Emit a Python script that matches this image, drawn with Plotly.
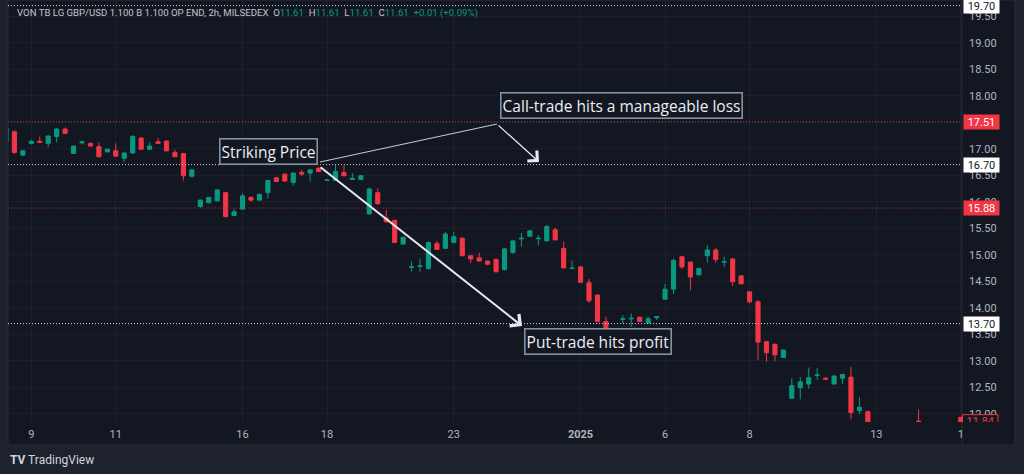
import plotly.graph_objects as go

# ---------------- data ----------------
candle_idx = [-1, 0, 1, 2, 3, 4, 5, 6, 7, 8, 9, 10, 11, 12, 13, 14, 15, 16, 17, 18, 19,
              20, 21, 22, 23, 24, 25, 26, 27, 28, 29, 30, 31, 32, 33, 34, 35, 36, 37, 38, 39,
              40, 41, 42, 43, 44, 45, 46, 47, 48, 49, 50, 51, 52, 53, 54, 55, 56, 57, 58, 59,
              60, 61, 62, 63, 64, 65, 66, 67, 68, 69, 70, 71, 72, 73, 74, 75, 76, 77, 78, 79,
              80, 81, 82, 83, 84, 85, 86, 87, 88, 89, 90, 91, 92, 93, 94, 95, 96, 97, 98, 99,
              100, 101, 107, 112]
open_ = [17.13, 17.32, 16.88, 17.10, 17.14, 17.10, 17.23, 17.37, 16.91, 17.11, 17.10, 17.04, 16.94, 16.96, 16.82, 16.92, 17.20, 16.99, 17.13, 17.145, 16.93,
         16.91, 16.48, 15.91, 15.98, 16.02, 16.17, 15.74, 15.86, 16.08, 16.03, 16.17, 16.45, 16.52, 16.36, 16.55, 16.54, 16.63, 16.40, 16.40, 16.55,
         16.42, 16.42, 15.77, 16.17, 15.69, 15.65, 15.20, 14.76, 14.78, 14.74, 15.21, 15.12, 15.23, 15.31, 14.98, 14.94, 14.88, 14.91, 14.72, 15.04,
         15.30, 15.35, 15.30, 15.26, 15.47, 15.12, 14.74, 14.77, 14.47, 14.24, 13.74, 13.45, 13.78, 13.79, 13.82, 13.71, 13.81, 14.16, 14.35, 14.96,
         14.86, 14.62, 14.98, 15.09, 14.86, 14.92, 14.60, 14.30, 14.11, 13.36, 13.31, 13.06, 12.29, 12.49, 12.56, 12.72, 12.67, 12.56, 12.67, 12.69,
         12.06, 12.04, 11.86, 11.93]
high = [17.42, 17.35, 16.97, 17.17, 17.23, 17.25, 17.39, 17.40, 17.06, 17.15, 17.12, 17.12, 17.00, 17.10, 16.93, 17.26, 17.22, 17.12, 17.20, 17.15, 16.98,
        16.92, 16.62, 16.04, 16.09, 16.24, 16.18, 15.86, 16.16, 16.10, 16.15, 16.41, 16.46, 16.53, 16.55, 16.60, 16.61, 16.65, 16.42, 16.71, 16.69,
        16.54, 16.50, 16.27, 16.25, 15.84, 15.66, 15.34, 14.87, 14.93, 15.25, 15.26, 15.43, 15.43, 15.33, 14.99, 15.04, 14.89, 14.93, 15.12, 15.28,
        15.41, 15.46, 15.37, 15.56, 15.51, 15.245, 14.89, 14.78, 14.54, 14.25, 13.83, 13.52, 13.86, 13.89, 13.83, 13.83, 13.84, 14.45, 14.93, 14.97,
        14.87, 14.75, 15.18, 15.12, 14.96, 14.93, 14.61, 14.31, 14.14, 13.37, 13.32, 13.21, 12.67, 12.69, 12.87, 12.86, 12.68, 12.73, 12.75, 12.88,
        12.31, 12.05, 12.08, 11.94]
low = [17.10, 16.90, 16.86, 17.08, 17.11, 17.03, 17.12, 17.28, 16.90, 17.08, 17.04, 16.83, 16.93, 16.84, 16.75, 16.90, 16.98, 16.98, 17.09, 16.95, 16.84,
       16.40, 16.46, 15.88, 15.97, 16.00, 15.70, 15.73, 15.85, 16.00, 16.02, 16.06, 16.37, 16.38, 16.30, 16.49, 16.38, 16.56, 16.39, 16.39, 16.48,
       16.41, 16.41, 15.76, 15.95, 15.61, 15.22, 15.19, 14.68, 14.68, 14.72, 15.09, 15.11, 15.22, 14.97, 14.84, 14.87, 14.80, 14.66, 14.70, 15.02,
       15.15, 15.34, 15.18, 15.25, 15.27, 14.74, 14.73, 14.47, 14.09, 13.72, 13.49, 13.44, 13.70, 13.64, 13.73, 13.70, 13.77, 14.15, 14.26, 14.73,
       14.33, 14.61, 14.85, 14.85, 14.77, 14.41, 14.44, 14.08, 13.01, 12.98, 12.99, 13.05, 12.28, 12.27, 12.47, 12.64, 12.64, 12.55, 12.56, 11.895,
       11.995, 11.78, 11.82, 11.78]
close = [17.39, 16.93, 16.96, 17.14, 17.12, 17.24, 17.37, 17.29, 17.05, 17.13, 17.05, 16.85, 16.99, 16.86, 16.92, 17.23, 16.99, 17.05, 17.10, 16.96, 16.85,
         16.49, 16.60, 16.03, 16.08, 16.22, 15.72, 15.81, 16.11, 16.03, 16.14, 16.40, 16.38, 16.39, 16.54, 16.52, 16.60, 16.57, 16.41, 16.57, 16.49,
         16.44, 16.49, 16.24, 15.96, 15.62, 15.23, 15.33, 14.77, 14.79, 15.23, 15.10, 15.39, 15.34, 14.98, 14.92, 14.88, 14.82, 14.68, 15.11, 15.26,
         15.31, 15.45, 15.31, 15.53, 15.28, 14.75, 14.745, 14.48, 14.13, 13.74, 13.50, 13.51, 13.79, 13.80, 13.74, 13.79, 13.83, 14.35, 14.89, 14.77,
         14.58, 14.74, 15.09, 14.91, 14.87, 14.49, 14.45, 14.11, 13.35, 13.15, 13.11, 13.20, 12.53, 12.60, 12.68, 12.73, 12.65, 12.71, 12.74, 12.02,
         12.12, 11.80, 11.83, 11.80]

tick_idx = [2, 12, 27, 37, 52, 67, 77, 87, 102, 112]
tick_labels = ["9", "11", "16", "18", "23", "<b>2025</b>", "6", "8", "13", "1"]
price_ticks = [12.0, 12.5, 13.0, 13.5, 14.0, 14.5, 15.0, 15.5, 16.0, 16.5, 17.0, 17.5, 18.0, 18.5, 19.0, 19.5]

white_levels = [19.70, 16.70, 13.70]
red_levels = [17.51, 15.88]
last_price = 11.84

header_label = "VON TB LG GBP/USD 1.100 B 1.100 OP END, 2h, MILSEDEX"
header_ohlc = [("O", 11.61), ("H", 11.61), ("L", 11.61), ("C", 11.61)]
header_change = "+0.01 (+0.09%)"

# annotation anchors (candle index, price)
strike_label = ("Striking Price", 30.1, 16.95)
call_label = ("Call-trade hits a manageable loss", 71.8, 17.806)
put_label = ("Put-trade hits profit", 69.1, 13.353)
call_link = ((36.17, 16.749), (57.11, 17.466))
call_arrow = ((57.11, 17.466), (62.08, 16.749))
put_arrow = ((36.05, 16.674), (60.07, 13.655))

# ---------------- style ----------------
W, H = 1024, 474
BG = "#131722"
FRAME = "#1e222d"
GRID = "#1c202b"
GREEN = "#089981"
RED = "#f23645"
AXIS_TXT = "#b2b5be"
PL, PR, PB = 8, 962, 422      # plot area pixel edges
PANEL_R, PANEL_B = 1015, 445

fig = go.Figure()
fig.add_trace(go.Candlestick(
    x=candle_idx, open=open_, high=high, low=low, close=close,
    increasing=dict(line=dict(color=GREEN, width=1), fillcolor=GREEN),
    decreasing=dict(line=dict(color=RED, width=1), fillcolor=RED),
    whiskerwidth=0, hoverinfo="skip", showlegend=False))

# clipped last-price badge in the price-axis column
bh = 7.5 / 53.0
fig.add_trace(go.Scatter(
    x=[0.5, 36, 36, 0.5, 0.5],
    y=[last_price - bh, last_price - bh, last_price + bh, last_price + bh, last_price - bh],
    mode="lines", fill="toself", fillcolor=BG, line=dict(color=RED, width=1),
    xaxis="x2", yaxis="y2", hoverinfo="skip", showlegend=False))
fig.add_trace(go.Scatter(
    x=[18.25], y=[last_price], mode="text", text=[f"{last_price:.2f}"],
    textfont=dict(family="Roboto", size=11, color=RED), cliponaxis=True,
    xaxis="x2", yaxis="y2", hoverinfo="skip", showlegend=False))

xr = [-0.757, 112.14]
yr = [11.843, 19.806]
ydom = [(H - PB) / H, 1]

fig.update_layout(
    width=W, height=H, margin=dict(l=0, r=0, t=0, b=0),
    paper_bgcolor=FRAME, plot_bgcolor=BG, showlegend=False,
    xaxis=dict(domain=[PL / W, PR / W], range=xr, rangeslider=dict(visible=False),
               tickvals=tick_idx, ticktext=tick_labels, showgrid=True, gridcolor=GRID,
               zeroline=False, showline=False, ticks="", ticklabelstandoff=4,
               tickfont=dict(family="Roboto", size=11, color=AXIS_TXT),
               fixedrange=True, automargin=False),
    yaxis=dict(domain=ydom, range=yr, side="right", tickvals=price_ticks,
               ticktext=[f"{v:.2f}" for v in price_ticks], showgrid=True, gridcolor=GRID,
               zeroline=False, showline=False, ticks="", ticklabelstandoff=6,
               tickfont=dict(family="Roboto", size=11, color=AXIS_TXT),
               fixedrange=True, automargin=False),
    xaxis2=dict(domain=[PR / W, PANEL_R / W], range=[0, PANEL_R - PR], visible=False,
                anchor="y2", fixedrange=True),
    yaxis2=dict(domain=ydom, range=yr, visible=False, anchor="x2", fixedrange=True),
)

shapes = [
    dict(type="rect", xref="paper", yref="paper", x0=PL / W, x1=PANEL_R / W,
         y0=(H - PANEL_B) / H, y1=1.0, fillcolor=BG, line=dict(color="#2a2e39", width=1), layer="below"),
    dict(type="line", xref="paper", yref="paper", x0=PR / W, x1=PR / W,
         y0=(H - PANEL_B) / H, y1=1.0, line=dict(color="#2a2e39", width=1), layer="below"),
]
for lv in white_levels:
    shapes.append(dict(type="line", xref="paper", yref="y", x0=PL / W, x1=PR / W, y0=lv, y1=lv,
                       line=dict(color="#c9ccd4", width=1, dash="1px,2px"), layer="above"))
for lv in red_levels:
    shapes.append(dict(type="line", xref="paper", yref="y", x0=PL / W, x1=PR / W, y0=lv, y1=lv,
                       line=dict(color="#c7303f", width=1, dash="1px,2px"), layer="above"))
(lx0, ly0), (lx1, ly1) = call_link
shapes.append(dict(type="line", xref="x", yref="y", x0=lx0, y0=ly0, x1=lx1, y1=ly1,
                   line=dict(color="#c9ccd4", width=1), layer="above"))
fig.update_layout(shapes=shapes)

ann = []
# arrows
for (t, hd), wdt, sz in [(call_arrow, 1.3, 2.1), (put_arrow, 2, 1.45)]:
    ann.append(dict(x=hd[0], y=hd[1], ax=t[0], ay=t[1], xref="x", yref="y", axref="x", ayref="y",
                    text="", showarrow=True, arrowhead=4, arrowsize=sz, arrowwidth=wdt,
                    arrowcolor="#e6e9ef"))
# text boxes
for txt, xi, yp in [strike_label, call_label, put_label]:
    ann.append(dict(x=xi, y=yp, xref="x", yref="y", text=txt, showarrow=False,
                    font=dict(family="Open Sans", size=15.5, color="#eceef2", weight=500),
                    bgcolor=BG, bordercolor="#8391a0", borderwidth=1.6, borderpad=1))
# price badges
for lv in white_levels:
    ann.append(dict(xref="paper", x=(PR + 1) / W, xanchor="left", yref="y", y=lv, yanchor="middle",
                    text=f"{lv:.2f}", showarrow=False, bgcolor="#ffffff",
                    font=dict(family="Roboto", size=11, color="#131722"),
                    width=35, height=14, borderpad=0, align="center"))
for lv in red_levels:
    ann.append(dict(xref="paper", x=(PR + 1) / W, xanchor="left", yref="y", y=lv, yanchor="middle",
                    text=f"{lv:.2f}", showarrow=False, bgcolor=RED,
                    font=dict(family="Roboto", size=11, color="#ffffff"),
                    width=35, height=14, borderpad=0, align="center"))
# header
sp = "\u00a0"
hdr = header_label + sp * 2 + (sp * 2).join(
    f"{k}<span style='color:{GREEN}'>{v:.2f}</span>" for k, v in header_ohlc)
hdr += sp * 2 + f"<span style='color:{GREEN}'>{header_change}</span>"
ann.append(dict(xref="paper", yref="paper", x=15 / W, y=1 - 13 / H, xanchor="left", yanchor="middle",
                text=hdr, showarrow=False, font=dict(family="Roboto", size=9.6, color="#c3c6ce")))
# logo
ann.append(dict(xref="paper", yref="paper", x=8 / W, y=1 - 460 / H, xanchor="left", yanchor="middle",
                text="<b>TV</b> TradingView", showarrow=False,
                font=dict(family="Roboto", size=12, color="#d1d4dc")))
fig.update_layout(annotations=ann)

fig.write_html("out.html")
